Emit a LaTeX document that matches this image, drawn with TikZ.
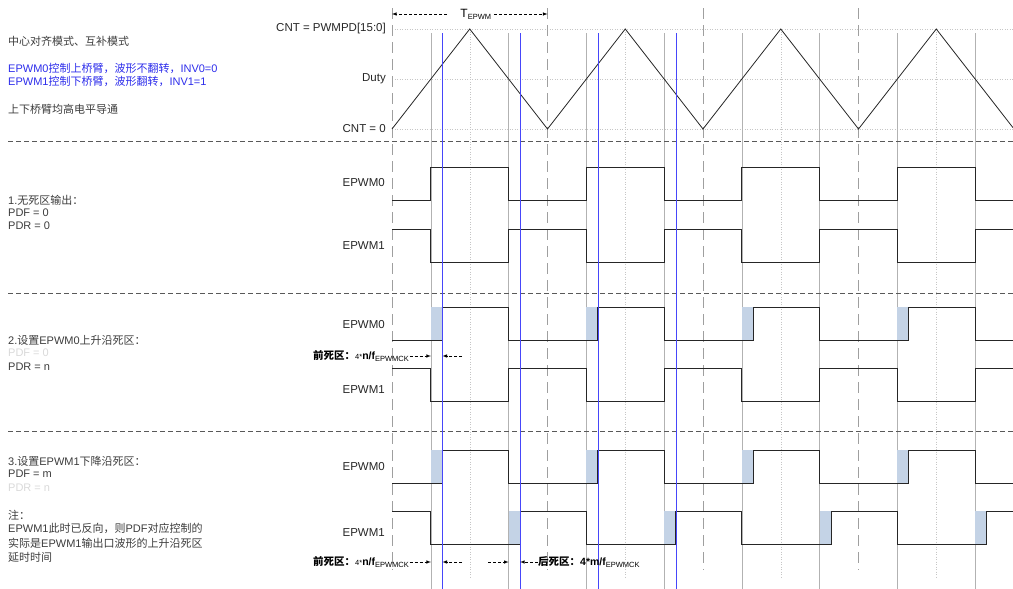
\documentclass[tikz,border=0pt]{standalone}
\usepackage{fontspec}
\setmainfont{Liberation Sans}
\newfontfamily\cjk{Noto Sans CJK SC}
\usepackage{tikz}
\usetikzlibrary{arrows, positioning, calc}
\definecolor{pwmblue}{RGB}{45,45,235}
\definecolor{dzfill}{RGB}{196,211,230}
\definecolor{txtgray}{RGB}{60,60,60}
\definecolor{lineblue}{RGB}{70,70,250}
\newcommand{\zh}[1]{{\cjk #1}}
\tikzset{
  lefttxt/.style={anchor=west, inner sep=0pt, text=txtgray, font=\fontsize{11}{13}\selectfont},
  siglbl/.style={anchor=east, inner sep=0pt, text=black!85, font=\fontsize{11.5}{13}\selectfont},
  dzlbl/.style={inner sep=0pt, text=black, font=\fontsize{10.5}{12}\selectfont},
  wave/.style={draw=black!85, line width=0.9pt},
  sepline/.style={draw=black!65, dash pattern=on 5pt off 3pt, line width=0.8pt},
  periodline/.style={draw=gray!75, dash pattern=on 11pt off 6pt, line width=0.9pt},
  dutyline/.style={draw=gray!60, line width=0.5pt},
  peakline/.style={draw=gray!45, dotted, line width=0.5pt},
  deadline/.style={draw=lineblue, line width=0.7pt},
  levelline/.style={draw=gray!45, dotted, line width=0.5pt},
  dzbox/.style={fill=dzfill, draw=none},
  dzarrow/.style={draw=black, dash pattern=on 3pt off 2pt, -latex, line width=0.6pt},
}

\begin{document}
\begin{tikzpicture}[x=1pt,y=-1pt]
    \useasboundingbox (0,0) rectangle (1013,589);

    % Linee guida
    \draw[levelline] (392,29) -- (1013,29);
    \draw[levelline] (392,79) -- (1013,79);
    \draw[levelline] (392,129) -- (1013,129);
    \foreach \x in {469.75,625.25,780.75,936.25} \draw[peakline] (\x,29) -- (\x,577);
    \foreach \x in {430.9,508.6,586.4,664.1,741.9,819.6,897.4,975.1} \draw[dutyline] (\x,33) -- (\x,589);
    \foreach \x in {392,547.5,703,858.5} \draw[periodline] (\x,8) -- (\x,570);

    % Separatori
    \draw[sepline] (8,141) -- (1013,141);
    \draw[sepline] (8,293) -- (1013,293);
    \draw[sepline] (8,431) -- (1013,431);

    % Periodo
    \coordinate (tleft) at (392,14);
    \coordinate (tright) at (547.5,14);
    \node[inner sep=0pt, font=\fontsize{12}{13}\selectfont] (tepwm) at (476,14) {T\textsubscript{\fontsize{7.5}{8}\selectfont EPWM}};
    \draw[dzarrow, shorten <=13pt] (tepwm.west) -- (tleft);
    \draw[dzarrow, shorten <=2pt] (tepwm.east) -- (tright);

    % Contatore
    \node[siglbl] (cntmax) at (386,29) {CNT = PWMPD[15:0]};
    \node[siglbl] (cntduty) at (386,79) {Duty};
    \node[siglbl] (cntzero) at (386,129) {CNT = 0};
    \draw[wave, line width=0.8pt] (392,129) -- (469.75,29) -- (547.5,129) -- (625.25,29) -- (703,129)
        -- (780.75,29) -- (858.5,129) -- (936.25,29) -- (1013,127.7);

    % Testo a sinistra
    \node[lefttxt] (mode) at (8,41) {\zh{中心对齐模式、互补模式}};
    \node[lefttxt, text=pwmblue] (inv0) at (8,68) {EPWM0\zh{控制上桥臂，波形不翻转，}INV0=0};
    \node[lefttxt, text=pwmblue] (inv1) at (8,81) {EPWM1\zh{控制下桥臂，波形翻转，}INV1=1};
    \node[lefttxt] (level) at (8,109) {\zh{上下桥臂均高电平导通}};

    % 1. nessuna zona morta
    \node[lefttxt] (c1title) at (8,200) {1.\zh{无死区输出：}};
    \node[lefttxt] (c1pdf) at (8,213) {PDF = 0};
    \node[lefttxt] (c1pdr) at (8,226) {PDR = 0};
    \node[siglbl] (c1pwm0) at (385,183) {EPWM0};
    \node[siglbl] (c1pwm1) at (385,246) {EPWM1};
    \draw[wave] (392,200) foreach \u/\d in {430.9/508.6,586.4/664.1,741.9/819.6,897.4/975.1}
        { -- (\u,200) -- (\u,167) -- (\d,167) -- (\d,200) } -- (1013,200);
    \draw[wave] (392,229) foreach \u/\d in {430.9/508.6,586.4/664.1,741.9/819.6,897.4/975.1}
        { -- (\u,229) -- (\u,262) -- (\d,262) -- (\d,229) } -- (1013,229);

    % 2. zona morta sul fronte di salita
    \node[lefttxt] (c2title) at (8,340) {2.\zh{设置}EPWM0\zh{上升沿死区：}};
    \node[lefttxt, text=gray!30] (c2pdf) at (8,353) {PDF = 0};
    \node[lefttxt] (c2pdr) at (8,367) {PDR = n};
    \node[siglbl] (c2pwm0) at (385,325) {EPWM0};
    \node[siglbl] (c2pwm1) at (385,390) {EPWM1};
    \foreach \u/\r in {430.9/442.4,586.4/597.9,741.9/753.4,897.4/908.9} \fill[dzbox] (\u,307) rectangle (\r,340);
    \draw[wave] (392,340) foreach \r/\d in {442.4/508.6,597.9/664.1,753.4/819.6,908.9/975.1}
        { -- (\r,340) -- (\r,307) -- (\d,307) -- (\d,340) } -- (1013,340);
    \draw[wave] (392,368) foreach \u/\d in {430.9/508.6,586.4/664.1,741.9/819.6,897.4/975.1}
        { -- (\u,368) -- (\u,401) -- (\d,401) -- (\d,368) } -- (1013,368);
    \node[dzlbl, anchor=west] (c2front) at (313,356) {\zh{\textbf{前死区：}}{\fontsize{7.5}{8}\selectfont 4*}\textbf{n/f}\textsubscript{\fontsize{7.5}{8}\selectfont EPWMCK}};
    \coordinate (c2rise) at (430.9,356);
    \coordinate (c2end) at (442.4,356);
    \coordinate (c2back) at (462,356);
    \draw[dzarrow] (c2front.east) -- (c2rise);
    \draw[dzarrow] (c2back) -- (c2end);

    % 3. zona morta sul fronte di discesa
    \node[lefttxt] (c3title) at (8,461) {3.\zh{设置}EPWM1\zh{下降沿死区：}};
    \node[lefttxt] (c3pdf) at (8,474) {PDF = m};
    \node[lefttxt, text=gray!30] (c3pdr) at (8,488) {PDR = n};
    \node[lefttxt] (note) at (8,515) {\zh{注：}};
    \node[lefttxt] (note1) at (8,528) {EPWM1\zh{此时已反向，则}PDF\zh{对应控制的}};
    \node[lefttxt] (note2) at (8,543) {\zh{实际是}EPWM1\zh{输出口波形的上升沿死区}};
    \node[lefttxt] (note3) at (8,557) {\zh{延时时间}};
    \node[siglbl] (c3pwm0) at (385,467) {EPWM0};
    \node[siglbl] (c3pwm1) at (385,533) {EPWM1};
    \foreach \u/\r in {430.9/442.4,586.4/597.9,741.9/753.4,897.4/908.9} \fill[dzbox] (\u,450) rectangle (\r,483);
    \foreach \d/\f in {508.6/520.1,664.1/675.6,819.6/831.1,975.1/986.6} \fill[dzbox] (\d,511) rectangle (\f,544);
    \draw[wave] (392,483) foreach \r/\d in {442.4/508.6,597.9/664.1,753.4/819.6,908.9/975.1}
        { -- (\r,483) -- (\r,450) -- (\d,450) -- (\d,483) } -- (1013,483);
    \draw[wave] (392,511) foreach \u/\f in {430.9/520.1,586.4/675.6,741.9/831.1,897.4/986.6}
        { -- (\u,511) -- (\u,544) -- (\f,544) -- (\f,511) } -- (1013,511);

    % Istanti di fine zona morta
    \foreach \x in {442.4,520.1,597.9,676.2} \draw[deadline] (\x,33) -- (\x,589);

    \node[dzlbl, anchor=west] (c3front) at (313,562) {\zh{\textbf{前死区：}}{\fontsize{7.5}{8}\selectfont 4*}\textbf{n/f}\textsubscript{\fontsize{7.5}{8}\selectfont EPWMCK}};
    \node[dzlbl, anchor=west] (c3rear) at (538,562) {\zh{\textbf{后死区：}}\textbf{4*m/f}\textsubscript{\fontsize{7.5}{8}\selectfont EPWMCK}};
    \coordinate (c3rise) at (430.9,562);
    \coordinate (c3end) at (442.4,562);
    \coordinate (c3back) at (462,562);
    \coordinate (c3fall) at (488,562);
    \coordinate (c3fallend) at (508.6,562);
    \coordinate (c3delay) at (520.1,562);
    \draw[dzarrow] (c3front.east) -- (c3rise);
    \draw[dzarrow] (c3back) -- (c3end);
    \draw[dzarrow] (c3fall) -- (c3fallend);
    \draw[dzarrow] (c3rear.west) -- (c3delay);
\end{tikzpicture}
\end{document}
